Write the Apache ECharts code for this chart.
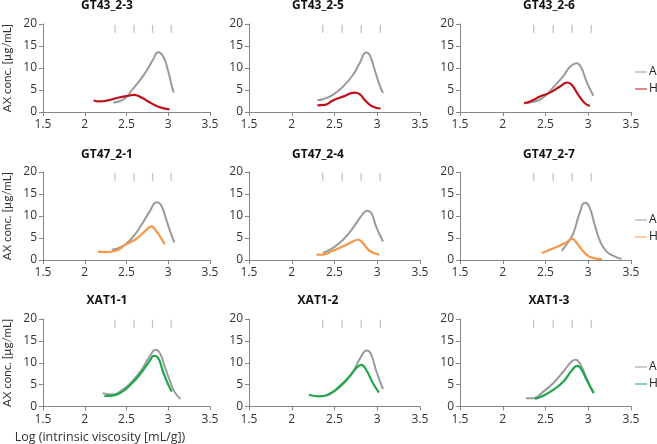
<!DOCTYPE html>
<html><head><meta charset="utf-8">
<script src="https://cdn.jsdelivr.net/npm/echarts@6/dist/echarts.min.js"></script>
<style>html,body{margin:0;padding:0;background:#fff}#c{width:657px;height:444px}</style>
</head><body><div id="c"></div>
<script>
const panelTitles = ['GT43_2-3','GT43_2-5','GT43_2-6','GT47_2-1','GT47_2-4','GT47_2-7','XAT1-1','XAT1-2','XAT1-3'];
const xTicks = {min:1.5, max:3.5, interval:0.5};
const yTicks = {min:0, max:20, interval:5};
const markerX = [2.362, 2.59, 2.812, 3.035];
const markerY = 18.9;
const seriesNames = ['A','H'];
const yAxisTitle = 'AX conc. [µg/mL]';
const xAxisTitle = 'Log (intrinsic viscosity [mL/g])';

const gt43_2_3_A = [[2.344,2.1],[2.45,2.7],[2.51,3.6],[2.566,5.0],[2.68,7.7],[2.76,10.0],[2.82,12.0],[2.879,13.6],[2.94,12.6],[3.0,9.2],[3.035,6.5],[3.066,4.4]];
const gt43_2_3_H = [[2.105,2.6],[2.176,2.4],[2.29,2.7],[2.41,3.3],[2.527,3.7],[2.586,3.9],[2.68,3.3],[2.76,2.4],[2.88,1.2],[3.015,0.6]];
const gt43_2_5_A = [[2.30,2.7],[2.365,2.9],[2.48,3.9],[2.6,5.8],[2.716,8.4],[2.794,11.1],[2.872,13.5],[2.91,13.0],[2.97,9.6],[3.02,6.5],[3.067,4.3]];
const gt43_2_5_H = [[2.30,1.5],[2.385,1.6],[2.48,2.6],[2.6,3.5],[2.736,4.4],[2.79,4.1],[2.87,2.4],[2.95,1.2],[3.04,0.8]];
const gt43_2_6_A = [[2.25,2.0],[2.358,2.3],[2.475,3.3],[2.59,5.6],[2.71,8.2],[2.787,10.3],[2.865,11.1],[2.92,10.0],[2.98,6.9],[3.06,3.7]];
const gt43_2_6_H = [[2.25,2.0],[2.32,2.4],[2.436,3.5],[2.55,4.4],[2.67,5.8],[2.755,6.7],[2.806,6.2],[2.884,3.9],[2.96,2.0],[3.02,1.4]];
const gt47_2_1_A = [[2.324,2.35],[2.45,3.1],[2.566,5.0],[2.68,8.0],[2.78,11.1],[2.86,13.1],[2.91,12.6],[2.976,9.2],[3.03,6.1],[3.074,4.0]];
const gt47_2_1_H = [[2.156,1.9],[2.254,1.8],[2.37,2.1],[2.49,3.5],[2.6,4.6],[2.72,6.5],[2.8,7.65],[2.84,7.0],[2.9,5.4],[2.957,3.6]];
const gt47_2_4_A = [[2.365,1.6],[2.48,2.7],[2.6,4.6],[2.716,7.3],[2.81,9.9],[2.88,11.2],[2.93,10.7],[2.985,7.7],[3.067,4.2]];
const gt47_2_4_H = [[2.29,1.2],[2.365,1.2],[2.48,2.1],[2.6,3.1],[2.716,4.2],[2.775,4.6],[2.83,3.9],[2.91,2.1],[3.025,1.2]];
const gt47_2_7_A = [[2.69,2.1],[2.77,4.2],[2.826,6.1],[2.9,10.7],[2.96,13.0],[3.01,12.2],[3.08,7.7],[3.14,4.2],[3.215,1.9],[3.29,1.0],[3.39,0.2]];
const gt47_2_7_H = [[2.455,1.6],[2.55,2.35],[2.65,3.1],[2.75,4.1],[2.814,4.8],[2.864,3.9],[2.94,2.0],[3.02,0.7],[3.16,0.2]];
const xat1_1_A = [[2.215,3.05],[2.33,2.75],[2.45,3.8],[2.566,5.7],[2.68,8.4],[2.78,11.5],[2.85,13.0],[2.9,12.2],[2.957,9.2],[3.015,6.1],[3.074,3.4],[3.145,1.7]];
const xat1_1_H = [[2.234,2.45],[2.33,2.5],[2.45,3.4],[2.566,5.3],[2.68,7.8],[2.78,10.5],[2.83,11.6],[2.88,11.1],[2.937,8.0],[3.0,5.0],[3.043,3.4]];
const xat1_2_A = [[2.35,2.3],[2.443,2.8],[2.56,4.4],[2.677,6.8],[2.755,9.3],[2.79,10.7],[2.88,12.8],[2.93,11.8],[2.99,8.0],[3.067,4.0]];
const xat1_2_H = [[2.2,2.7],[2.326,2.3],[2.443,2.9],[2.56,4.6],[2.677,6.9],[2.755,8.8],[2.814,9.5],[2.87,8.4],[2.95,5.3],[3.02,3.2]];
const xat1_3_A = [[2.27,1.9],[2.358,1.9],[2.475,3.4],[2.59,5.3],[2.71,8.0],[2.806,10.3],[2.853,10.7],[2.9,9.9],[2.98,6.5],[3.06,3.05]];
const xat1_3_H = [[2.378,1.75],[2.475,2.45],[2.59,3.8],[2.71,5.7],[2.806,8.2],[2.872,9.3],[2.92,8.5],[2.98,6.1],[3.065,3.05]];

const panelA = [gt43_2_3_A,gt43_2_5_A,gt43_2_6_A,gt47_2_1_A,gt47_2_4_A,gt47_2_7_A,xat1_1_A,xat1_2_A,xat1_3_A];
const panelH = [gt43_2_3_H,gt43_2_5_H,gt43_2_6_H,gt47_2_1_H,gt47_2_4_H,gt47_2_7_H,xat1_1_H,xat1_2_H,xat1_3_H];
const rowColors = ['#c0101a','#f79646','#1fa84a'];
const grayColor = '#9a9a9a';

const colLeft = [39, 249, 460];
const rowTop = [24, 172, 319];
const rowH = [88, 88, 87.5];
const plotW = 171;
const titleX = [107, 318, 549];
const titleY = [6, 155, 301];
const legendTop = [61, 209, 356];

const font = '"Open Sans", "Liberation Sans", sans-serif';
const narrow = 'Lato, "Open Sans", sans-serif';
const grid = [], xAxis = [], yAxis = [], series = [], legend = [], graphic = [];
for (let i = 0; i < 9; i++) {
  const r = Math.floor(i / 3), c = i % 3;
  grid.push({left: colLeft[c], top: rowTop[r], width: plotW, height: rowH[r], containLabel: false});
  xAxis.push({type: 'value', gridIndex: i, min: xTicks.min, max: xTicks.max, interval: xTicks.interval,
    axisLine: {lineStyle: {color: '#868686', width: 1}},
    axisTick: {show: true, length: 4, lineStyle: {color: '#868686'}},
    axisLabel: {color: '#333', fontSize: 12, fontFamily: font, margin: 7},
    splitLine: {show: false}});
  yAxis.push({type: 'value', gridIndex: i, min: yTicks.min, max: yTicks.max, interval: yTicks.interval,
    name: c === 0 ? yAxisTitle : '', nameLocation: 'middle', nameGap: 30, nameRotate: 90,
    nameTextStyle: {color: '#333', fontSize: 11.5, fontFamily: narrow},
    axisLine: {show: true, lineStyle: {color: '#868686', width: 1}},
    axisTick: {show: true, length: 4, lineStyle: {color: '#868686'}},
    axisLabel: {color: '#333', fontSize: 12, fontFamily: font, margin: 6},
    splitLine: {show: false}});
  series.push({type: 'scatter', xAxisIndex: i, yAxisIndex: i, silent: true, symbol: 'rect', symbolSize: [1.3, 8],
    itemStyle: {color: '#b4b4b4'}, data: markerX.map(x => [x, markerY]), z: 1});
  series.push({name: seriesNames[0], type: 'line', xAxisIndex: i, yAxisIndex: i, data: panelA[i], smooth: true,
    showSymbol: false, symbol: 'none', lineStyle: {color: grayColor, width: 2}, itemStyle: {color: grayColor}, z: 2});
  series.push({name: seriesNames[1], type: 'line', xAxisIndex: i, yAxisIndex: i, data: panelH[i], smooth: true,
    showSymbol: false, symbol: 'none', lineStyle: {color: rowColors[r], width: 2.2}, itemStyle: {color: rowColors[r]}, z: 3});
  graphic.push({type: 'text', x: titleX[c], y: titleY[r], style: {text: panelTitles[i], fill: '#111',
    font: 'bold 12px ' + font, textAlign: 'center', textVerticalAlign: 'middle'}});
}
for (let r = 0; r < 3; r++) {
  legend.push({orient: 'vertical', left: 630, top: legendTop[r], itemWidth: 12, itemHeight: 10, itemGap: 5,
    textStyle: {color: '#222', fontSize: 12, fontFamily: font, padding: [0,0,0,-3]},
    selectedMode: false,
    data: [{name: 'A', icon: 'path://M0,4.5 L12,4.5 L12,5.5 L0,5.5 Z', itemStyle: {color: grayColor}},
           {name: 'H', icon: 'path://M0,4.5 L12,4.5 L12,5.5 L0,5.5 Z', itemStyle: {color: rowColors[r]}}]});
}
graphic.push({type: 'text', x: 100, y: 437, style: {text: xAxisTitle, fill: '#333', font: '12.5px ' + font,
  textAlign: 'center', textVerticalAlign: 'middle'}});

const chart = echarts.init(document.getElementById('c'), null, {renderer: 'canvas'});
chart.setOption({animation: false, backgroundColor: '#fff', grid, xAxis, yAxis, series, legend, graphic});
</script></body></html>
